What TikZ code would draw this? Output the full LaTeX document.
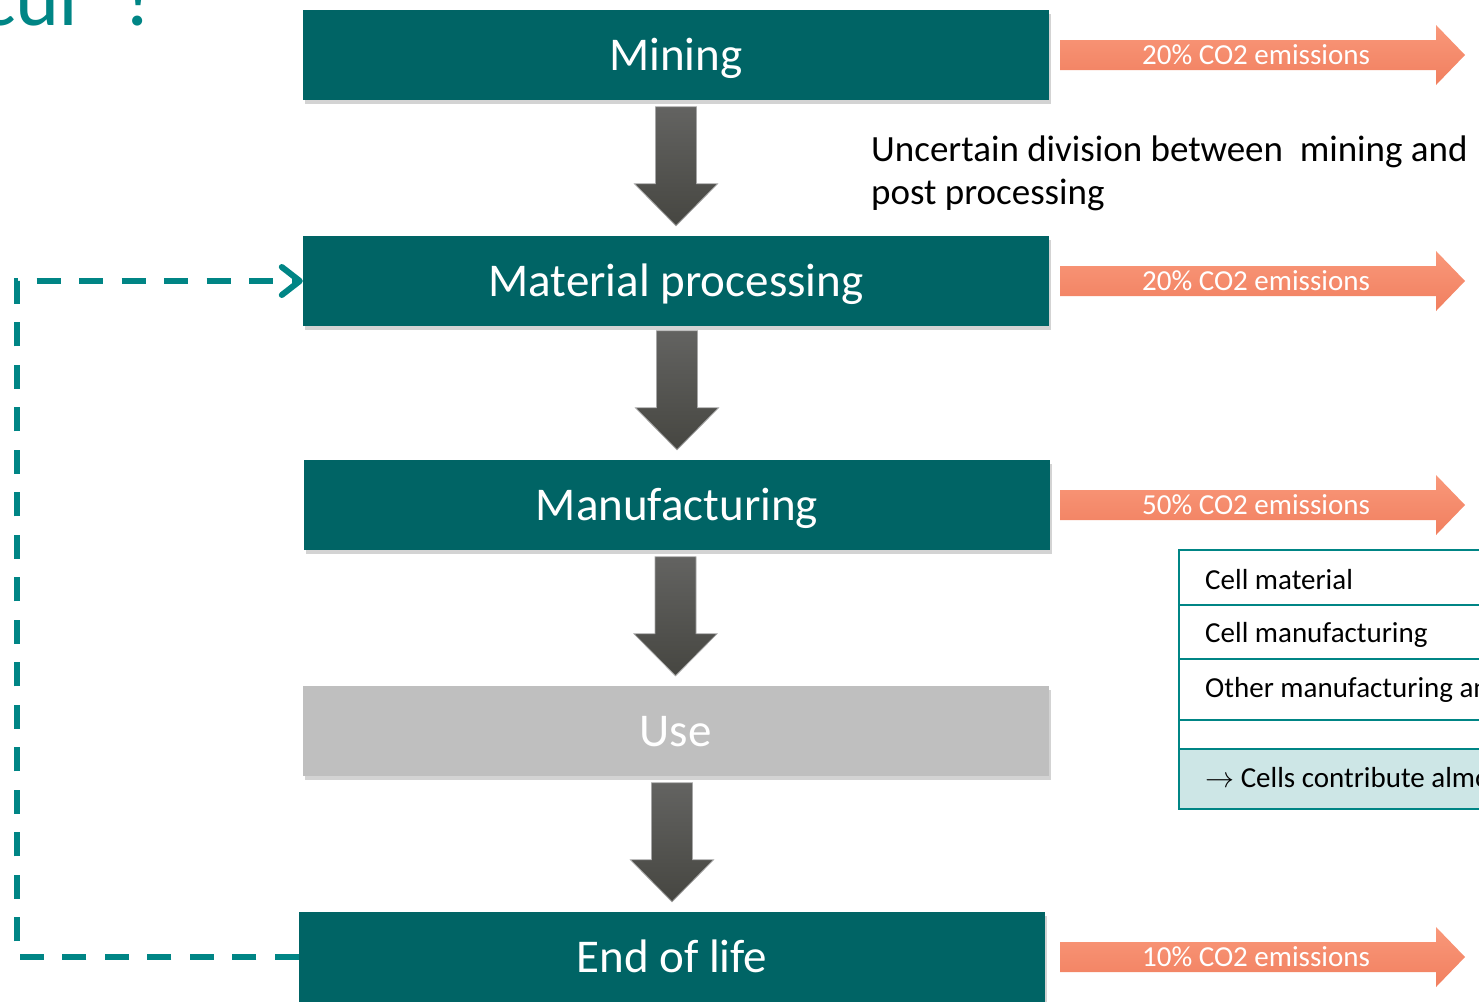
\RequirePackage{fix-cm}
\documentclass[tikz,border=0pt]{standalone}
\usepackage{fontspec}
\setmainfont{Carlito}
\usetikzlibrary{arrows.meta,shadows}

\definecolor{stagefill}{RGB}{0,100,101}
\definecolor{usefill}{RGB}{191,191,191}
\definecolor{loopteal}{RGB}{0,133,133}
\definecolor{co2top}{RGB}{249,152,122}
\definecolor{co2bot}{RGB}{241,127,95}
\definecolor{flowtop}{RGB}{99,99,97}
\definecolor{flowbot}{RGB}{70,70,65}
\definecolor{rowfill}{RGB}{205,230,230}

\begin{document}
\begin{tikzpicture}[x=1pt,y=-1pt,
    stage/.style={rectangle, fill=stagefill, text=white, inner sep=0pt,
                  minimum width=746pt, minimum height=90pt,
                  font=\fontsize{47}{56}\selectfont, text height=30pt, text depth=0pt,
                  drop shadow={shadow xshift=2pt, shadow yshift=-3.5pt, opacity=0.35}},
    usestage/.style={stage, fill=usefill},
    co2/.style={top color=co2top, bottom color=co2bot},
    co2text/.style={text=white, inner sep=0pt, font=\fontsize{29}{35}\selectfont,
                    text height=19pt, text depth=0pt},
    flow/.style={top color=flowtop, bottom color=flowbot, draw=black!35, line width=0.8pt},
    loopback/.style={draw=loopteal, line width=6pt, dash pattern=on 24pt off 18.5pt,
                     -{Straight Barb[length=18pt,width=28pt,round]}},
    tablerule/.style={draw=loopteal, line width=2.2pt},
    cell/.style={anchor=base west, inner sep=0pt, font=\fontsize{29}{35}\selectfont},
    note/.style={anchor=base west, inner sep=0pt, align=left, font=\fontsize{37}{43}\selectfont}]

  \useasboundingbox (0,0) rectangle (1479,1001);
  \begin{scope}
  \clip (0,0) rectangle (1479,1001);

  \node[anchor=base west, inner sep=0pt, text=loopteal,
        font=\fontsize{84}{100}\selectfont] (heading) at (-20,25) {cur\hspace{0.15em} ?};

  \node[stage]    at (676,55)    (mine) {Mining};
  \node[stage]    at (676,281)   (proc) {Material processing};
  \node[stage]    at (677,505)   (manu) {Manufacturing};
  \node[usestage] at (675.5,731) (use)  {Use};
  \node[stage]    at (672,957)   (eol)  {End of life};

  % flow arrows
  \foreach \b in {proc,manu,use,eol}
    \shade[flow] ([yshift=10pt]\b.north) -- ++(-41.5,-42) -- ++(21,0) -- ++(0,-77)
                 -- ++(41,0) -- ++(0,77) -- ++(21,0) -- cycle;

  % emissions
  \foreach \b/\pct in {mine/20,proc/20,manu/50,eol/10} {
    \shade[co2] (1060,0 |- \b.east) ++(0,-15) -- ++(376,0) -- ++(0,-15) -- ++(29,30)
                -- ++(-29,30) -- ++(0,-15) -- ++(-376,0) -- cycle;
    \node[co2text] (co2\b) at (1256,0 |- \b.east) {\pct\% CO2 emissions};
  }

  \coordinate (loopcorner) at (17,957);
  \draw[loopback] (eol.west) -- (loopcorner) |- (proc.west);

  \node[note] (uncertain) at (871,204) {Uncertain division between\ \ mining and\\post processing};

  % table
  \fill[rowfill] (1179,749) rectangle (1479,809);
  \foreach \y in {605,659,720,749}
    \draw[tablerule] (1179,\y) -- (1479,\y);
  \draw[tablerule] (1479,550) -- (1179,550) -- (1179,809) -- (1479,809);
  \node[cell] (cellmat) at (1205,589) {Cell material};
  \node[cell] (cellman) at (1205,642) {Cell manufacturing};
  \node[cell] (othman)  at (1205,697) {Other manufacturing and};
  \node[cell] (cellsum) at (1205,787) {$\rightarrow$ Cells contribute almost};
  \end{scope}

\end{tikzpicture}
\end{document}
